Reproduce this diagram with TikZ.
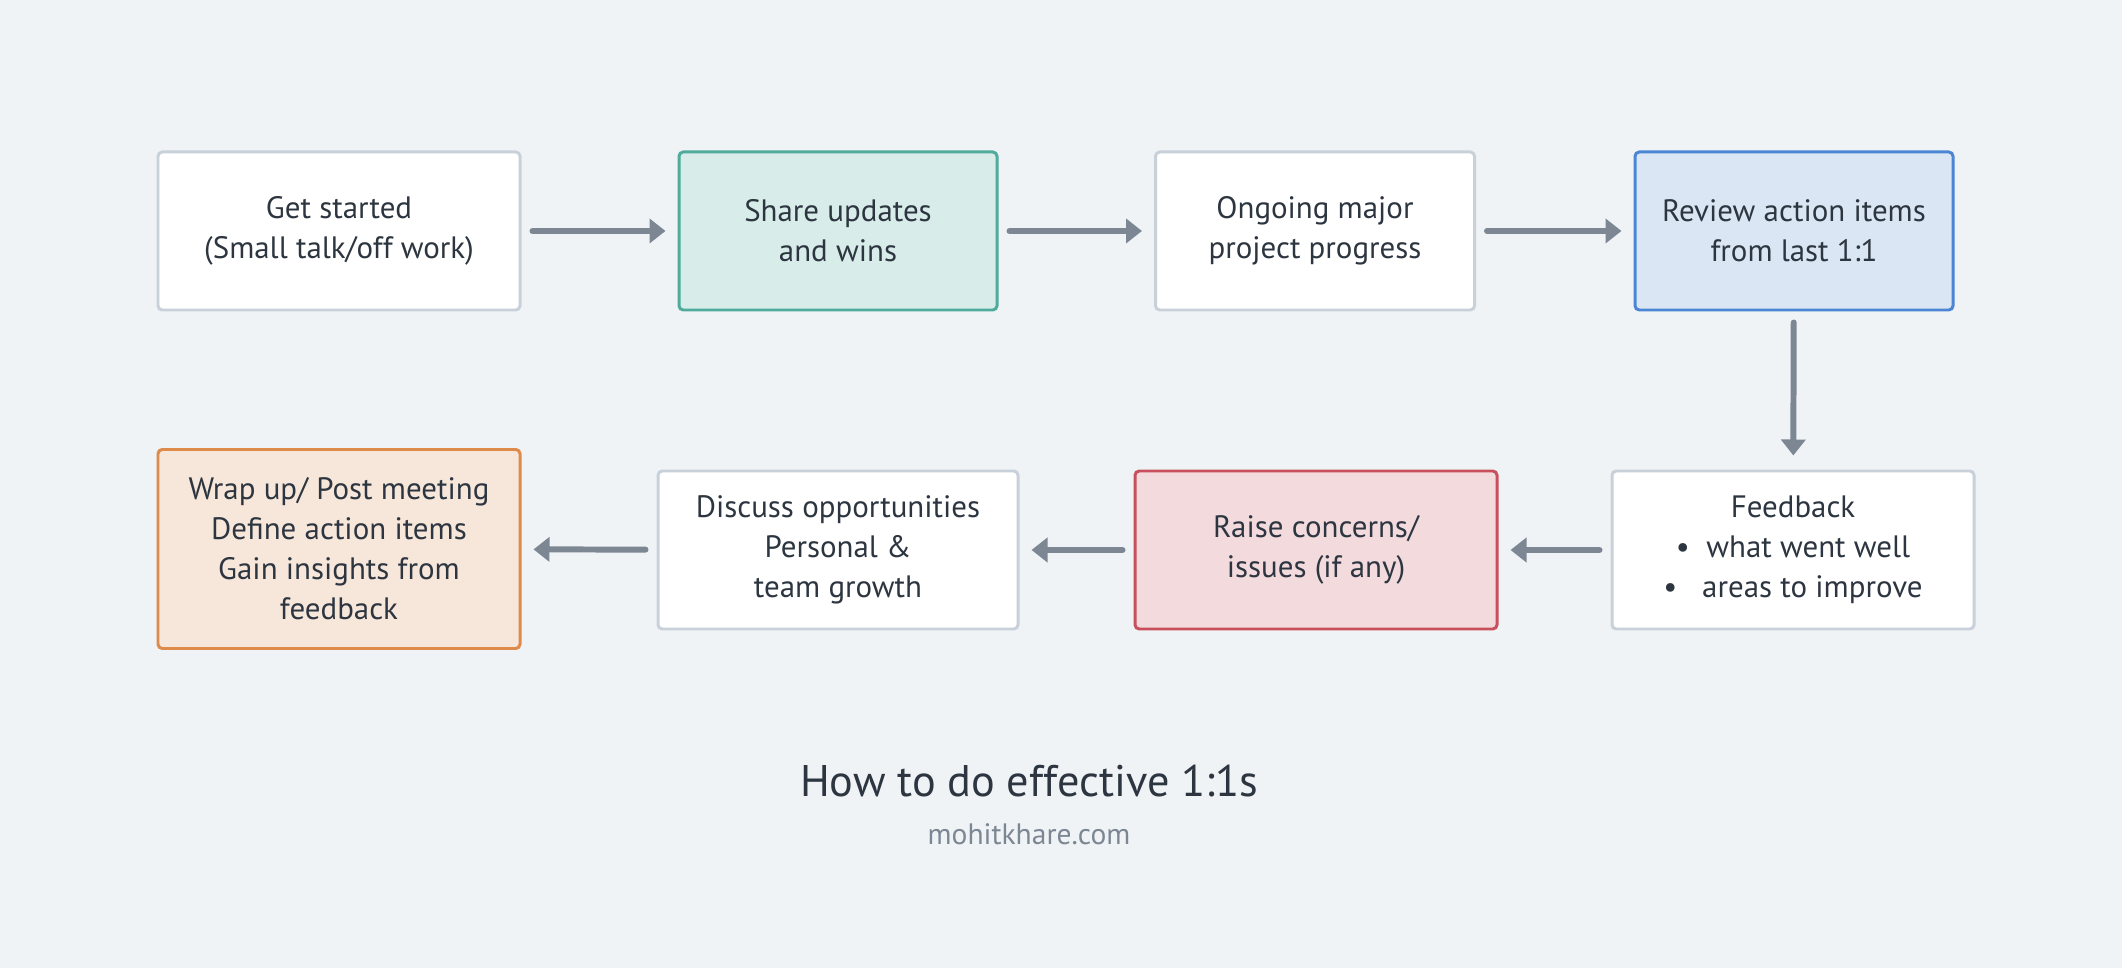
\documentclass[tikz,border=0pt]{standalone}
\usepackage{fontspec}
\setmainfont{PT Sans}
\usetikzlibrary{arrows.meta,positioning}
\definecolor{bgcol}{HTML}{EFF3F6}
\definecolor{txtcol}{HTML}{2D3640}
\definecolor{edgecol}{HTML}{C8D1D9}
\definecolor{arrcol}{HTML}{7D8794}
\definecolor{tealfill}{HTML}{D8EDE9}
\definecolor{tealline}{HTML}{4FAB9C}
\definecolor{bluefill}{HTML}{DAE6F4}
\definecolor{blueline}{HTML}{4A86D4}
\definecolor{redfill}{HTML}{F2DADD}
\definecolor{redline}{HTML}{C8505C}
\definecolor{orangefill}{HTML}{F7E6DA}
\definecolor{orangeline}{HTML}{DD8A4B}
\tikzset{
  stepbox/.style={draw=edgecol, fill=white, line width=0.85pt, rounded corners=1.2pt,
    minimum width=3.62cm, minimum height=1.58cm, align=center, text=txtcol,
    font=\fontsize{8.8}{11.4}\selectfont},
  flow/.style={draw=arrcol, line width=1.7pt, line cap=round,
    -{Triangle[length=0.16cm,width=0.24cm]},
    shorten <=0.11cm, shorten >=0.12cm},
}

\begin{document}
\begin{tikzpicture}

%% Background
\fill[bgcol] (0,0) rectangle (21.22,-9.68);
\useasboundingbox (0,0) rectangle (21.22,-9.68);

%% Top row
\node[stepbox] (start) at (3.39,-2.31) {Get started\\(Small talk/off work)};
\node[stepbox, minimum width=3.18cm, fill=tealfill, draw=tealline] (share) at (8.38,-2.31) {Share updates\\and wins};
\node[stepbox, minimum width=3.19cm] (project) at (13.15,-2.31) {Ongoing major\\project progress};
\node[stepbox, minimum width=3.18cm, fill=bluefill, draw=blueline] (review) at (17.94,-2.31) {Review action items\\from last 1:1};

%% Bottom row
\node[stepbox] (feedback) at (17.93,-5.50) {Feedback\\\textbullet\ \ what went well\\\textbullet\ \ \ areas to improve};
\node[stepbox, fill=redfill, draw=redline] (concerns) at (13.16,-5.50) {Raise concerns/\\issues (if any)};
\node[stepbox, minimum width=3.60cm] (growth) at (8.38,-5.50) {Discuss opportunities\\Personal \&\\team growth};
\node[stepbox, minimum height=1.99cm, fill=orangefill, draw=orangeline] (wrapup) at (3.39,-5.49) {Wrap up/ Post meeting\\Define action items\\Gain insights from\\feedback};

%% Connectors
\draw[flow] (start) -- (share);
\draw[flow] (share) -- (project);
\draw[flow] (project) -- (review);
\draw[flow, shorten >=0.14cm] (review) -- (feedback);
\draw[flow] (feedback) -- (concerns);
\draw[flow] (concerns) -- (growth);
\draw[flow] (growth) -- (wrapup);

%% Caption
\node[text=txtcol, font=\fontsize{12.6}{15}\selectfont] (title) at (10.29,-7.81) {How to do effective 1:1s};
\node[text=arrcol, font=\fontsize{8.4}{10}\selectfont, below=0.02cm of title] (site) {mohitkhare.com};

\end{tikzpicture}
\end{document}
